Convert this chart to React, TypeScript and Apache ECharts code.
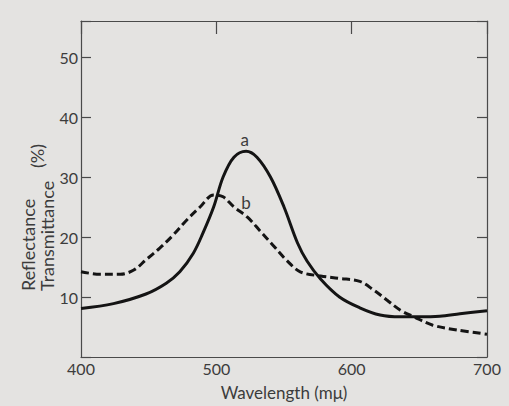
import React, { useEffect, useRef } from "react";
import * as echarts from "echarts";

const xTicks = [400, 500, 600, 700];
const yTicks = [10, 20, 30, 40, 50];

// Curve a (solid)
const curveA: [number, number][] = [
  [400, 8.1], [424, 8.9], [448, 10.5], [463, 12.3], [473, 14.2], [483, 17.3],
  [490, 20.6], [498, 25.0], [505, 30.0], [513, 33.3], [522, 34.3],
  [530, 33.3], [540, 30.0], [550, 25.0], [560, 19.0], [567, 16.0], [577, 13.0],
  [591, 10.0], [606, 8.2], [621, 7.0], [636, 6.7], [650, 6.7],
  [665, 6.8], [680, 7.2], [700, 7.7],
];

// Curve b (dashed)
const curveB: [number, number][] = [
  [400, 14.2], [414, 13.8], [429, 13.8], [439, 14.5], [448, 16.2], [458, 18.1],
  [468, 20.3], [478, 22.8], [488, 25.0], [498, 27.0], [505, 26.7], [513, 25.0],
  [523, 23.3], [532, 21.1], [542, 18.6], [552, 16.1], [562, 14.2], [577, 13.5],
  [591, 13.1], [606, 12.6], [616, 11.2], [626, 9.5], [636, 7.8], [646, 6.7],
  [660, 5.3], [678, 4.5], [700, 3.8],
];

const curveLabels = [
  { name: "a", coord: [521, 36.3] },
  { name: "b", coord: [522, 25.8] },
];

const FONT = "Lato, 'Open Sans', sans-serif";
const TEXT = "#3c3c3c";
const AXIS = "#4a4a4a";
const LINE = "#141414";

export default function App() {
  const ref = useRef<HTMLDivElement>(null);
  useEffect(() => {
    if (!ref.current) return;
    const chart = echarts.init(ref.current, undefined, { renderer: "svg" });
    const yMax = 56;
    const frameAxis = { show: true, onZero: false, lineStyle: { color: AXIS, width: 1.2 } };
    chart.setOption({
      animation: false,
      backgroundColor: "#e4e3e1",
      grid: { left: 81, right: 22, top: 21, bottom: 48, containLabel: false },
      xAxis: [
        {
          type: "value",
          position: "bottom",
          min: xTicks[0],
          max: xTicks[xTicks.length - 1],
          interval: 100,
          axisLine: frameAxis,
          axisTick: { show: false },
          splitLine: { show: false },
          axisLabel: { color: TEXT, fontSize: 16, fontFamily: FONT, margin: 3 },
          name: "Wavelength (mμ)",
          nameLocation: "middle",
          nameGap: 27,
          nameTextStyle: { color: TEXT, fontSize: 17, fontFamily: FONT },
        },
        {
          type: "value",
          position: "top",
          min: xTicks[0],
          max: xTicks[xTicks.length - 1],
          interval: 100,
          axisLine: frameAxis,
          axisTick: { show: true, inside: true, length: 13, lineStyle: { color: AXIS, width: 1.2 } },
          axisLabel: { show: false },
          splitLine: { show: false },
        },
      ],
      yAxis: [
        {
          type: "value",
          position: "left",
          min: 0,
          max: yMax,
          interval: 10,
          axisLine: frameAxis,
          axisTick: { show: true, inside: true, length: 10, lineStyle: { color: AXIS, width: 1.2 } },
          splitLine: { show: false },
          axisLabel: {
            color: TEXT,
            fontSize: 16,
            fontFamily: FONT,
            margin: 3,
            formatter: (v: number) => (yTicks.includes(v) ? String(v) : ""),
          },
        },
        {
          type: "value",
          position: "right",
          min: 0,
          max: yMax,
          interval: 10,
          axisLine: frameAxis,
          axisTick: { show: true, inside: true, length: 10, lineStyle: { color: AXIS, width: 1.2 } },
          splitLine: { show: false },
          axisLabel: { show: false },
        },
      ],
      series: [
        {
          type: "line",
          data: curveA,
          smooth: 0.35,
          showSymbol: false,
          lineStyle: { color: LINE, width: 3 },
          markPoint: {
            symbol: "circle",
            symbolSize: 0,
            label: { show: true, color: TEXT, fontSize: 17, fontFamily: FONT, formatter: (p: any) => p.name },
            data: [curveLabels[0]],
          },
        },
        {
          type: "line",
          data: curveB,
          smooth: 0.35,
          showSymbol: false,
          lineStyle: { color: LINE, width: 3, type: [8, 4] },
          markPoint: {
            symbol: "circle",
            symbolSize: 0,
            label: { show: true, color: TEXT, fontSize: 17, fontFamily: FONT, formatter: (p: any) => p.name },
            data: [curveLabels[1]],
          },
        },
      ],
      graphic: [
        {
          type: "text",
          x: 28,
          y: 291,
          rotation: Math.PI / 2,
          style: { text: "Reflectance", fill: TEXT, fontSize: 18, fontFamily: FONT, align: "left", verticalAlign: "middle" },
        },
        {
          type: "text",
          x: 47,
          y: 291,
          rotation: Math.PI / 2,
          style: { text: "Transmittance", fill: TEXT, fontSize: 18, fontFamily: FONT, align: "left", verticalAlign: "middle" },
        },
        {
          type: "text",
          x: 37,
          y: 168,
          rotation: Math.PI / 2,
          style: { text: "(%)", fill: TEXT, fontSize: 18, fontFamily: FONT, align: "left", verticalAlign: "middle" },
        },
      ],
    });
    return () => chart.dispose();
  }, []);
  return <div ref={ref} style={{ width: 509, height: 406, position: "absolute", left: 0, top: 0 }} />;
}
